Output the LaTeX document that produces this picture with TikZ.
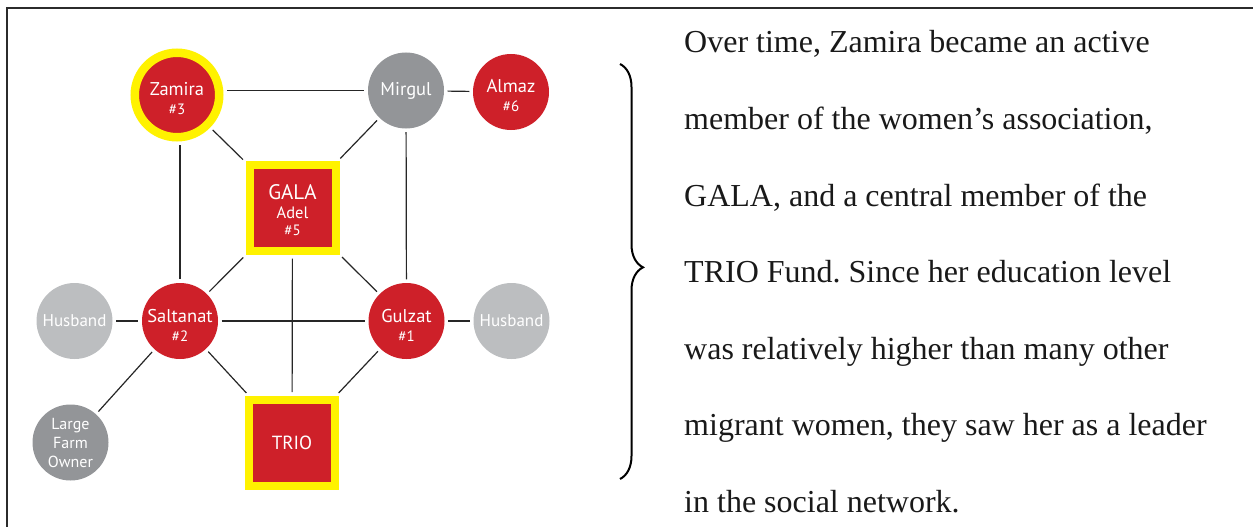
\documentclass[tikz,border=0pt]{standalone}
\usepackage{fontspec}
\setmainfont{Liberation Serif}
\newfontfamily\nodefont{PT Sans}
\usetikzlibrary{decorations.pathreplacing}
\definecolor{netred}{HTML}{CE2029}
\definecolor{ringyellow}{HTML}{FFF200}
\definecolor{darkgrey}{HTML}{939598}
\definecolor{lightgrey}{HTML}{BCBEC0}
\definecolor{framegrey}{HTML}{2B2B2B}
\newcommand{\nodenum}[1]{{\fontsize{15}{15}\selectfont\##1}}
\begin{document}
\frenchspacing
\begin{tikzpicture}[x=1pt,y=-1pt,
  person/.style={circle, minimum size=76pt, inner sep=0pt, text=white, align=center,
    font=\nodefont\fontsize{18.5}{20}\selectfont},
  member/.style={person, fill=netred},
  other/.style={person, fill=darkgrey},
  kin/.style={person, fill=lightgrey},
  keyperson/.style={member, draw=ringyellow, line width=8.5pt, minimum size=84.5pt},
  group/.style={rectangle, fill=netred, draw=ringyellow, line width=8pt, minimum size=86pt,
    inner sep=0pt, text=white, align=center, font=\nodefont\fontsize{19}{20}\selectfont},
  caption/.style={inner sep=0pt, text=white, align=center, yshift=-4pt,
    font=\nodefont\fontsize{18.5}{20}\selectfont},
  tie/.style={draw=black!85, line width=1.2pt, shorten <=3.5pt, shorten >=3.5pt},
  story/.style={anchor=base west, inner sep=0pt, font=\fontsize{32}{32}\selectfont, text=black!90}]
\useasboundingbox (0,0) rectangle (1253,527);
% frame: left and top rules only
\draw[framegrey, line width=1.6pt] (7,527) -- (7,8) -- (1253,8);

% people and groups
\node[keyperson, label={[caption]center:Zamira\\[-1pt]\nodenum{3}}] (zamira) at (177,95) {};
\node[other] (mirgul) at (406,90.5) {Mirgul};
\node[member, label={[caption]center:Almaz\\[-1pt]\nodenum{6}}] (almaz) at (511,92) {};
\node[group, label={[caption, yshift=2pt]center:{\fontsize{21}{22}\selectfont GALA}\\[-1pt]{\fontsize{16.5}{17}\selectfont Adel}\\[-3pt]\nodenum{5}}] (gala) at (292.5,208) {};
\node[member, label={[caption]center:Saltanat\\[-1pt]\nodenum{2}}] (saltanat) at (180,321) {};
\node[member, label={[caption]center:Gulzat\\[-1pt]\nodenum{1}}] (gulzat) at (406.5,321) {};
\node[kin, font=\nodefont\fontsize{17}{18}\selectfont] (husbandL) at (74.5,321) {Husband};
\node[kin, font=\nodefont\fontsize{17}{18}\selectfont] (husbandR) at (511.5,321) {Husband};
\node[other, font=\nodefont\fontsize{16}{19}\selectfont] (farmer) at (70.5,442.5) {Large\\Farm\\Owner};
\node[group] (trio) at (292,442.5) {TRIO};

% ties
\path[tie] (zamira.east |- mirgul) -- (mirgul);
\path[tie] (mirgul) -- (almaz);
\path[tie] (saltanat |- zamira.south) -- (saltanat);
\path[tie] (zamira) -- (gala);
\path[tie] (mirgul) -- (gala);
\path[tie] (mirgul) -- (gulzat);
\path[tie] (gala) -- (saltanat);
\path[tie] (gala) -- (gulzat);
\path[tie] (gala) -- (trio);
\path[tie] (saltanat) -- (gulzat);
\path[tie] (saltanat) -- (trio);
\path[tie] (gulzat) -- (trio);
\path[tie] (husbandL) -- (saltanat);
\path[tie] (gulzat) -- (husbandR);
\path[tie] (saltanat) -- (farmer);

% brace and narrative
\coordinate (bracetop) at (620,64);
\coordinate (bracebot) at (620,479);
\draw[line width=2pt, decorate, decoration={brace, amplitude=23pt, aspect=0.49}] (bracetop) -- (bracebot);
\node[story] (t1) at (684,53) {Over time, Zamira became an active};
\node[story] (t2) at (684,129.5) {member of the women’s association,};
\node[story] (t3) at (684,206) {GALA, and a central member of the};
\node[story] (t4) at (684,282.5) {TRIO Fund. Since her education level};
\node[story] (t5) at (684,359) {was relatively higher than many other};
\node[story] (t6) at (684,435.5) {migrant women, they saw her as a leader};
\node[story] (t7) at (684,512) {in the social network.};
\end{tikzpicture}
\end{document}
